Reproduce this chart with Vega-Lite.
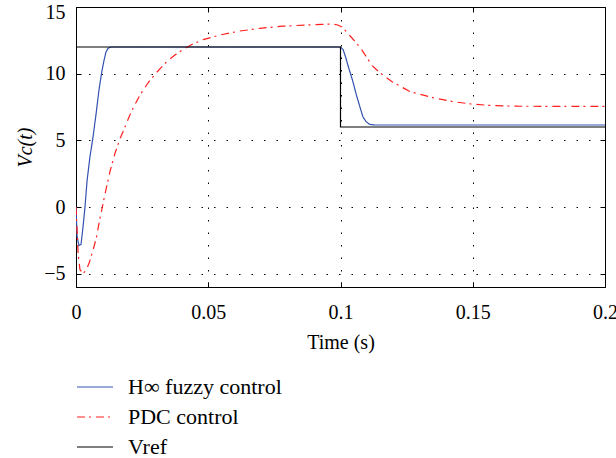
{
  "$schema": "https://vega.github.io/schema/vega-lite/v6.json",
  "autosize": {"type": "none"},
  "padding": {"left": 76, "top": 7, "right": 11, "bottom": 171},
  "width": 529,
  "height": 280,
  "config": {
    "font": "Liberation Serif",
    "view": {"stroke": "black", "strokeWidth": 1},
    "axis": {
      "labelFont": "Liberation Serif",
      "labelFontSize": 20,
      "labelColor": "black",
      "titleFont": "Liberation Serif",
      "titleFontSize": 20,
      "titleFontWeight": "normal",
      "titleColor": "black",
      "domainColor": "black",
      "tickColor": "black",
      "tickSize": -5,
      "gridColor": "black",
      "gridDash": [1.5, 11],
      "gridOpacity": 1,
      "gridWidth": 1
    },
    "legend": {
      "labelFont": "Liberation Serif",
      "labelFontSize": 22,
      "labelColor": "black"
    }
  },
  "datasets": {
    "curves": [
      {"s": "H∞ fuzzy control", "t": 0, "v": 0},
      {"s": "H∞ fuzzy control", "t": 0.0004, "v": -2.2},
      {"s": "H∞ fuzzy control", "t": 0.0011, "v": -2.9},
      {"s": "H∞ fuzzy control", "t": 0.0019, "v": -2.8},
      {"s": "H∞ fuzzy control", "t": 0.0026, "v": -1.6},
      {"s": "H∞ fuzzy control", "t": 0.0034, "v": 0},
      {"s": "H∞ fuzzy control", "t": 0.0042, "v": 2.0},
      {"s": "H∞ fuzzy control", "t": 0.0053, "v": 3.8},
      {"s": "H∞ fuzzy control", "t": 0.0064, "v": 5.2},
      {"s": "H∞ fuzzy control", "t": 0.0076, "v": 7.0},
      {"s": "H∞ fuzzy control", "t": 0.0087, "v": 8.8},
      {"s": "H∞ fuzzy control", "t": 0.0098, "v": 10.2},
      {"s": "H∞ fuzzy control", "t": 0.0106, "v": 11.0},
      {"s": "H∞ fuzzy control", "t": 0.0113, "v": 11.6},
      {"s": "H∞ fuzzy control", "t": 0.0121, "v": 11.9},
      {"s": "H∞ fuzzy control", "t": 0.0132, "v": 12.0},
      {"s": "H∞ fuzzy control", "t": 0.1, "v": 12.0},
      {"s": "H∞ fuzzy control", "t": 0.101, "v": 11.8},
      {"s": "H∞ fuzzy control", "t": 0.102, "v": 11.2},
      {"s": "H∞ fuzzy control", "t": 0.103, "v": 10.5},
      {"s": "H∞ fuzzy control", "t": 0.1047, "v": 9.4},
      {"s": "H∞ fuzzy control", "t": 0.106, "v": 8.4},
      {"s": "H∞ fuzzy control", "t": 0.1075, "v": 7.4},
      {"s": "H∞ fuzzy control", "t": 0.1085, "v": 6.75},
      {"s": "H∞ fuzzy control", "t": 0.1097, "v": 6.4},
      {"s": "H∞ fuzzy control", "t": 0.111, "v": 6.2},
      {"s": "H∞ fuzzy control", "t": 0.113, "v": 6.15},
      {"s": "H∞ fuzzy control", "t": 0.2, "v": 6.15},
      {"s": "PDC control", "t": 0, "v": 0},
      {"s": "PDC control", "t": 0.0008, "v": -3.5},
      {"s": "PDC control", "t": 0.0015, "v": -4.7},
      {"s": "PDC control", "t": 0.0026, "v": -5.0},
      {"s": "PDC control", "t": 0.004, "v": -4.7},
      {"s": "PDC control", "t": 0.0053, "v": -4.0},
      {"s": "PDC control", "t": 0.0065, "v": -3.2},
      {"s": "PDC control", "t": 0.0078, "v": -2.2},
      {"s": "PDC control", "t": 0.009, "v": -0.9},
      {"s": "PDC control", "t": 0.0097, "v": -0.25},
      {"s": "PDC control", "t": 0.011, "v": 1.0},
      {"s": "PDC control", "t": 0.0129, "v": 2.7},
      {"s": "PDC control", "t": 0.0147, "v": 4.0},
      {"s": "PDC control", "t": 0.0166, "v": 5.1},
      {"s": "PDC control", "t": 0.0185, "v": 6.0},
      {"s": "PDC control", "t": 0.021, "v": 7.2},
      {"s": "PDC control", "t": 0.0242, "v": 8.4},
      {"s": "PDC control", "t": 0.0272, "v": 9.3},
      {"s": "PDC control", "t": 0.0305, "v": 10.1},
      {"s": "PDC control", "t": 0.0343, "v": 10.9},
      {"s": "PDC control", "t": 0.0374, "v": 11.4},
      {"s": "PDC control", "t": 0.0406, "v": 11.83},
      {"s": "PDC control", "t": 0.0444, "v": 12.25},
      {"s": "PDC control", "t": 0.0481, "v": 12.55},
      {"s": "PDC control", "t": 0.0544, "v": 12.9},
      {"s": "PDC control", "t": 0.062, "v": 13.2},
      {"s": "PDC control", "t": 0.0696, "v": 13.4},
      {"s": "PDC control", "t": 0.078, "v": 13.56},
      {"s": "PDC control", "t": 0.087, "v": 13.65},
      {"s": "PDC control", "t": 0.093, "v": 13.7},
      {"s": "PDC control", "t": 0.097, "v": 13.72},
      {"s": "PDC control", "t": 0.099, "v": 13.65},
      {"s": "PDC control", "t": 0.1005, "v": 13.5},
      {"s": "PDC control", "t": 0.102, "v": 13.2},
      {"s": "PDC control", "t": 0.104, "v": 12.75},
      {"s": "PDC control", "t": 0.106, "v": 12.3},
      {"s": "PDC control", "t": 0.108, "v": 11.8},
      {"s": "PDC control", "t": 0.11, "v": 11.2},
      {"s": "PDC control", "t": 0.112, "v": 10.6},
      {"s": "PDC control", "t": 0.115, "v": 10.05},
      {"s": "PDC control", "t": 0.1195, "v": 9.4},
      {"s": "PDC control", "t": 0.1263, "v": 8.65},
      {"s": "PDC control", "t": 0.135, "v": 8.2},
      {"s": "PDC control", "t": 0.1425, "v": 7.9},
      {"s": "PDC control", "t": 0.1496, "v": 7.72},
      {"s": "PDC control", "t": 0.1565, "v": 7.62},
      {"s": "PDC control", "t": 0.165, "v": 7.56},
      {"s": "PDC control", "t": 0.18, "v": 7.55},
      {"s": "PDC control", "t": 0.2, "v": 7.55},
      {"s": "Vref", "t": 0, "v": 12},
      {"s": "Vref", "t": 0.1, "v": 12},
      {"s": "Vref", "t": 0.1, "v": 6},
      {"s": "Vref", "t": 0.2, "v": 6}
    ]
  },
  "data": {"name": "curves"},
  "layer": [
    {
      "mark": {"type": "line", "strokeWidth": 1.2, "clip": true},
      "encoding": {
        "x": {
          "field": "t", "type": "quantitative",
          "scale": {"domain": [0, 0.2], "nice": false, "zero": false},
          "axis": {"title": "Time (s)", "values": [0, 0.05, 0.1, 0.15, 0.2], "format": "~g", "labelPadding": 20, "titlePadding": 10, "labelFlush": false, "grid": true}
        },
        "y": {
          "field": "v", "type": "quantitative",
          "scale": {"domain": [-6, 15], "nice": false, "zero": false},
          "axis": {"title": "Vc(t)", "titleFontStyle": "italic", "values": [-5, 0, 5, 10, 15], "labelPadding": 16, "titlePadding": 8, "labelFlush": true, "labelFlushOffset": 5, "grid": true}
        },
        "color": {
          "field": "s", "type": "nominal",
          "scale": {"domain": ["H∞ fuzzy control", "PDC control", "Vref"], "range": ["#3352b0", "#ff1f1f", "#000000"]},
          "legend": {"title": null, "orient": "none", "legendX": 0, "legendY": 361, "padding": 0, "symbolType": "stroke", "symbolSize": 1296, "symbolStrokeWidth": 1.2, "labelOffset": 14, "rowPadding": -11.5}
        },
        "strokeDash": {
          "field": "s", "type": "nominal",
          "scale": {"domain": ["H∞ fuzzy control", "PDC control", "Vref"], "range": [[1, 0], [8, 4, 2, 5], [1, 0]]},
          "legend": {"title": null, "orient": "none", "legendX": 0, "legendY": 361, "padding": 0, "symbolType": "stroke", "symbolSize": 1296, "symbolStrokeWidth": 1.2, "labelOffset": 14, "rowPadding": -11.5}
        },
        "order": {"value": null}
      }
    },
    {
      "mark": {"type": "line", "opacity": 0},
      "encoding": {
        "x": {"field": "t", "type": "quantitative", "axis": {"orient": "top", "labels": false, "title": null, "values": [0, 0.05, 0.1, 0.15, 0.2], "grid": false, "domain": false}},
        "y": {"field": "v", "type": "quantitative", "axis": {"orient": "right", "labels": false, "title": null, "values": [-5, 0, 5, 10, 15], "grid": false, "domain": false}}
      }
    }
  ],
  "resolve": {"axis": {"x": "independent", "y": "independent"}}
}
